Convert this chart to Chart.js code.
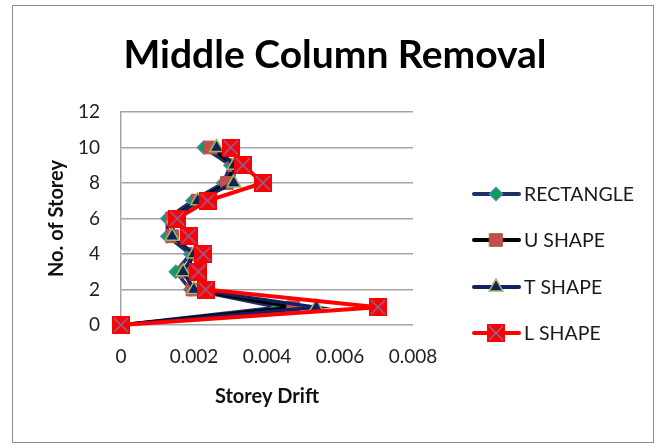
<!DOCTYPE html>
<html>
<head>
<meta charset="utf-8">
<script src="https://cdn.jsdelivr.net/npm/chart.js@4/dist/chart.umd.min.js"></script>
<style>
  body { margin: 0; background: #fff; }
  #frame { position: absolute; left: 12px; top: 5px; width: 640px; height: 436px; border: 1px solid #8c8c8c; }
  #wrap { position: absolute; left: 0; top: 0; width: 659px; height: 443px; }
</style>
</head>
<body>
<div id="frame"></div>
<div id="wrap"><canvas id="graph" width="659" height="443"></canvas></div>
<script>
// storey numbers and drift values
var storeys = [0, 1, 2, 3, 4, 5, 6, 7, 8, 9, 10];
var rectangle = [0, 0.0043, 0.0019, 0.0015, 0.0019, 0.00127, 0.00127, 0.00196, 0.0028, 0.0030, 0.00227];
var uShape = [0, 0.00472, 0.00196, 0.00177, 0.0020, 0.0014, 0.0014, 0.0021, 0.0029, 0.0031, 0.00246];
var tShape = [0, 0.00535, 0.0020, 0.0017, 0.0020, 0.0014, 0.00145, 0.0021, 0.00309, 0.0031, 0.00262];
var lShape = [0, 0.00704, 0.00232, 0.00212, 0.00226, 0.00185, 0.00154, 0.00237, 0.00389, 0.00334, 0.00301];
var xTicks = [0, 0.002, 0.004, 0.006, 0.008];
var yTicks = [0, 2, 4, 6, 8, 10, 12];
var chartTitle = 'Middle Column Removal';

var FONT = 'Lato, "Open Sans", sans-serif';

function pairs(vals) {
    var out = [];
    for (var i in vals) {
        out.push({x: vals[i], y: storeys[i]});
    }
    return out;
}

// red square with purple cross for the L SHAPE marker
function crossBox() {
    var c = document.createElement('canvas');
    c.width = 18; c.height = 18;
    var g = c.getContext('2d');
    g.fillStyle = '#ff0000';
    g.fillRect(0, 0, 18, 18);
    g.strokeStyle = '#7f6aa6';
    g.lineWidth = 1.5;
    g.beginPath();
    g.moveTo(2, 2); g.lineTo(16, 16);
    g.moveTo(16, 2); g.lineTo(2, 16);
    g.stroke();
    return c;
}
var lMarker = crossBox();

// title plus the legend on the right (line with marker in the middle)
var sideLegend = {
    id: 'sideLegend',
    afterDraw: function (chart) {
        var ctx = chart.ctx;
        var rows = [194, 240, 287, 333];
        ctx.save();
        ctx.fillStyle = '#000';
        ctx.font = 'bold 39px ' + FONT;
        ctx.textAlign = 'center';
        ctx.textBaseline = 'alphabetic';
        ctx.fillText(chartTitle, 335, 68);

        chart.data.datasets.forEach(function (ds, i) {
            var y = rows[i];
            ctx.strokeStyle = ds.borderColor;
            ctx.lineWidth = 4;
            ctx.lineCap = 'round';
            ctx.beginPath();
            ctx.moveTo(474, y);
            ctx.lineTo(519, y);
            ctx.stroke();
            ctx.fillStyle = ds.pointBackgroundColor;
            ctx.strokeStyle = ds.pointBorderColor;
            ctx.lineWidth = ds.pointBorderWidth;
            Chart.helpers.drawPoint(ctx, {
                pointStyle: ds.pointStyle,
                rotation: 0,
                radius: ds.pointRadius,
                borderWidth: ds.pointBorderWidth
            }, 496, y);
            ctx.fillStyle = '#1a1a1a';
            ctx.font = '19.5px ' + FONT;
            ctx.textAlign = 'left';
            ctx.textBaseline = 'middle';
            ctx.fillText(ds.label, 524, y + 1);
        });
        ctx.restore();
    }
};

var graphData = {
    datasets: [
        {
            label: 'RECTANGLE',
            data: pairs(rectangle),
            borderColor: '#1f2f66',
            borderWidth: 3.5,
            pointStyle: 'rectRot',
            pointRadius: 6.5,
            pointBackgroundColor: '#00a550',
            pointBorderColor: '#4f81bd',
            pointBorderWidth: 1.5,
            clip: false,
            order: 3
        }, {
            label: 'U SHAPE',
            data: pairs(uShape),
            borderColor: '#000000',
            borderWidth: 3.5,
            pointStyle: 'rect',
            pointRadius: 9,
            pointBackgroundColor: '#c0504d',
            pointBorderColor: '#c0504d',
            pointBorderWidth: 1,
            clip: false,
            order: 2
        }, {
            label: 'T SHAPE',
            data: pairs(tShape),
            borderColor: '#102060',
            borderWidth: 3.5,
            pointStyle: 'triangle',
            pointRadius: 8,
            pointBackgroundColor: '#102060',
            pointBorderColor: '#9bbb59',
            pointBorderWidth: 1.5,
            clip: false,
            order: 1
        }, {
            label: 'L SHAPE',
            data: pairs(lShape),
            borderColor: '#ff0000',
            borderWidth: 4,
            pointStyle: lMarker,
            pointRadius: 9,
            pointBackgroundColor: '#ff0000',
            pointBorderColor: '#ff0000',
            pointBorderWidth: 1,
            clip: false,
            order: 0
        }
    ]
};

new Chart(document.getElementById('graph'), {
    type: 'scatter',
    data: graphData,
    plugins: [sideLegend],
    options: {
        responsive: false,
        animation: false,
        showLine: true,
        layout: { padding: { left: 45, top: 112, right: 246, bottom: 23 } },
        plugins: {
            legend: { display: false },
            tooltip: { enabled: false },
            title: { display: false }
        },
        scales: {
            x: {
                type: 'linear',
                min: 0,
                max: 0.008,
                afterBuildTicks: function (scale) {
                    scale.ticks = xTicks.map(function (v) { return {value: v}; });
                },
                afterFit: function (scale) { scale.height = 95; },
                grid: { display: false, drawTicks: false },
                border: { display: false },
                ticks: { color: '#222', padding: 20, font: { family: FONT, size: 19 } },
                title: {
                    display: true,
                    text: 'Storey Drift',
                    color: '#111',
                    font: { family: FONT, size: 20, weight: 'bold' },
                    padding: { top: 0, bottom: 11 }
                }
            },
            y: {
                type: 'linear',
                min: 0,
                max: 12,
                afterBuildTicks: function (scale) {
                    scale.ticks = yTicks.map(function (v) { return {value: v}; });
                },
                afterFit: function (scale) { scale.width = 76; },
                grid: { color: '#a6a6a6', lineWidth: 1.5, drawTicks: false },
                border: { display: true, color: '#a6a6a6', width: 1.5 },
                ticks: { color: '#222', padding: 21, font: { family: FONT, size: 19 } },
                title: {
                    display: true,
                    text: 'No. of Storey',
                    color: '#111',
                    font: { family: FONT, size: 20, weight: 'bold' },
                    padding: { top: 0, bottom: 0 }
                }
            }
        }
    }
});
</script>
</body>
</html>
